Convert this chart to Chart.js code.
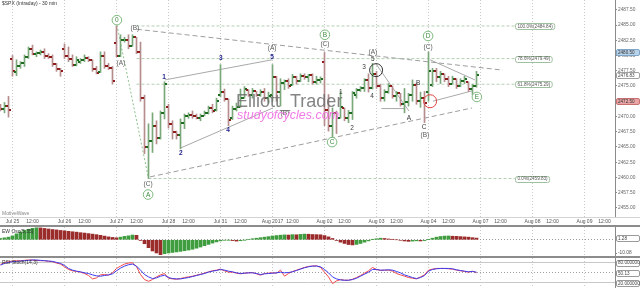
<!DOCTYPE html>
<html>
<head>
<meta charset="utf-8">
<script src="https://cdn.jsdelivr.net/npm/chart.js@4/dist/chart.umd.min.js"></script>
<style>
 html,body{margin:0;padding:0;background:#fff;}
 #wrap{position:relative;width:640px;height:288px;overflow:hidden;background:#fff;font-family:"Liberation Sans",Arial,sans-serif;}
 canvas{position:absolute;left:0;}
 #priceCv{top:0;}
 #oscCv{top:227px;}
 #rsiCv{top:258px;}
 .sep{position:absolute;left:0;width:640px;}
 .txt{position:absolute;white-space:nowrap;line-height:1;}
</style>
</head>
<body>
<div id="wrap">
 <canvas id="priceCv" width="640" height="226"></canvas>
 <canvas id="oscCv" width="640" height="29"></canvas>
 <canvas id="rsiCv" width="640" height="30"></canvas>
 <div class="sep" style="top:217px;height:1px;background:#d4d4d4"></div>
 <div class="sep" style="top:225px;height:2px;background:#8c8c8c"></div>
 <div class="sep" style="top:256px;height:2px;background:#8c8c8c"></div>
 <div class="txt" style="left:2px;top:1px;font-size:5px;color:#333">$SPX (Intraday) - 30 min</div>
 <div class="txt" style="left:2px;top:211px;font-size:5px;color:#888">MotiveWave</div>
 <div class="txt" style="left:2px;top:229px;font-size:5px;color:#333">EW Osc(5,35)</div>
 <div class="txt" style="left:2px;top:260px;font-size:5px;color:#333">RSI Stoch(14,3)</div>
 <div class="txt" style="left:236px;top:92px;font-size:18px;color:rgba(110,110,110,0.85)">Elliott_Trader</div>
 <div class="txt" style="left:237px;top:109px;font-size:12.5px;font-style:italic;color:#f27ae6">studyofcycles.com</div>
</div>
<script>
// ---------------- DATA ----------------
const firstBar = -3; // bar index of first bar (Jul 24, 14:30); Jul 25 09:30 = 0
const barsPerDay = 13;
const noonOffset = 5;
const dayLabels = ['Jul 25','Jul 26','Jul 27','Jul 28','Jul 31','Aug 2017','Aug 02','Aug 03','Aug 04','Aug 07','Aug 08','Aug 09'];
const noonLabel = '12:00';

const opens = [2471.5,2471.3,2471.8,
 2479.5,2477.3,2478.2,2478.7,2479.8,2481.0,2480.3,2480.4,2480.5,2480.0,2479.7,2478.6,2477.8,
 2481.0,2480.0,2479.5,2478.5,2478.9,2479.2,2479.6,2479.2,2477.8,2477.3,2479.9,2478.3,2478.0,
 2482.0,2480.0,2482.5,2482.6,2481.6,2483.0,2480.6,2473.0,2465.0,2466.0,2468.5,2466.5,2470.5,
 2471.5,2468.8,2467.5,2467.0,2469.0,2470.0,2470.3,2470.0,2469.8,2470.1,2470.6,2471.4,2471.0,
 2473.5,2474.0,2472.8,2469.8,2471.2,2471.6,2473.0,2474.4,2473.6,2474.1,2473.5,2474.0,2473.0,
 2473.5,2476.5,2474.0,2475.5,2475.8,2475.2,2476.5,2475.8,2476.7,2476.5,2476.8,2475.6,2476.0,
 2479.0,2471.0,2468.5,2470.5,2469.8,2471.4,2469.8,2470.5,2473.5,2474.4,2474.6,2476.0,2474.6,
 2477.0,2475.0,2473.0,2474.0,2475.0,2473.3,2473.8,2472.0,2472.3,2473.5,2475.2,2472.5,2473.0,
 2474.0,2475.2,2477.5,2476.5,2477.0,2476.2,2475.3,2476.2,2475.0,2475.8,2475.6,2474.5,2475.0];
const highs = [2472.0,2472.3,2473.3,
 2480.0,2479.3,2479.0,2480.1,2481.4,2481.7,2480.6,2480.9,2481.1,2480.3,2480.1,2478.7,2477.9,
 2481.9,2481.4,2480.1,2479.8,2479.5,2480.1,2479.8,2479.3,2478.2,2480.6,2480.6,2478.7,2478.2,
 2484.84,2483.4,2483.0,2483.4,2483.4,2483.0,2482.2,2473.5,2468.8,2470.6,2469.3,2470.9,2475.7,
 2472.0,2469.3,2467.6,2469.6,2470.4,2470.6,2470.9,2470.4,2470.4,2470.9,2471.7,2472.0,2473.0,
 2478.5,2474.5,2472.9,2471.7,2472.2,2474.5,2474.9,2474.4,2474.6,2474.1,2474.4,2474.6,2474.0,
 2478.5,2476.6,2476.2,2476.0,2476.2,2476.9,2476.6,2477.0,2477.0,2476.9,2477.0,2476.6,2476.5,
 2480.5,2473.6,2471.4,2470.9,2474.1,2471.4,2471.0,2474.1,2474.6,2474.9,2476.2,2477.0,2478.7,
 2477.4,2475.3,2474.4,2475.4,2475.0,2474.1,2473.8,2474.6,2473.8,2476.0,2475.5,2474.0,2474.1,
 2480.6,2477.9,2477.9,2477.4,2477.0,2476.6,2476.6,2476.2,2476.2,2476.6,2475.7,2475.3,2477.4];
const lows = [2470.9,2470.6,2469.9,
 2476.6,2476.7,2477.9,2478.2,2479.5,2480.1,2479.8,2480.1,2479.5,2479.5,2478.2,2477.4,2476.6,
 2479.5,2479.0,2478.2,2478.3,2478.7,2479.0,2479.0,2477.4,2477.0,2477.2,2477.9,2477.7,2475.3,
 2479.8,2479.8,2482.2,2481.1,2481.5,2480.3,2472.5,2463.9,2459.83,2464.1,2465.5,2466.3,2469.6,
 2468.1,2466.3,2466.3,2464.7,2468.0,2469.7,2469.7,2469.6,2469.3,2470.1,2470.4,2470.6,2470.9,
 2473.2,2472.5,2468.5,2469.5,2470.9,2471.5,2473.0,2473.3,2473.0,2473.3,2473.3,2472.5,2472.2,
 2472.5,2472.5,2471.7,2474.4,2474.6,2475.1,2475.3,2475.7,2476.1,2475.7,2475.3,2475.3,2475.5,
 2468.5,2467.6,2466.5,2467.2,2469.7,2469.3,2469.0,2469.5,2473.0,2474.1,2474.1,2474.0,2474.5,
 2474.6,2472.5,2472.5,2473.8,2473.0,2472.5,2471.7,2470.6,2471.7,2472.5,2472.0,2471.5,2469.0,
 2472.5,2474.9,2475.7,2475.4,2475.7,2474.9,2475.3,2474.6,2474.9,2475.4,2474.1,2473.6,2474.8];
const closes = [2471.3,2471.8,2471.0,
 2477.5,2478.2,2478.7,2479.8,2481.0,2480.3,2480.4,2480.5,2480.0,2479.7,2478.6,2477.8,2477.4,
 2480.0,2479.5,2478.5,2479.3,2479.2,2479.6,2479.2,2477.8,2477.2,2479.9,2478.3,2478.0,2475.8,
 2480.0,2482.5,2482.6,2481.6,2483.0,2480.6,2473.0,2465.0,2466.0,2468.5,2466.5,2470.5,2475.4,
 2468.8,2467.5,2467.0,2469.0,2470.0,2470.3,2470.0,2469.8,2470.1,2470.6,2471.4,2470.9,2472.5,
 2474.0,2472.8,2469.5,2471.2,2471.6,2473.0,2474.5,2473.6,2474.2,2473.5,2474.0,2473.0,2473.4,
 2476.5,2474.0,2475.5,2475.8,2475.0,2476.5,2475.8,2476.7,2476.5,2476.8,2475.6,2476.0,2476.2,
 2471.0,2468.5,2470.5,2469.8,2471.5,2469.8,2470.5,2473.8,2474.4,2474.6,2476.0,2474.6,2477.0,
 2475.0,2473.0,2474.0,2475.0,2473.3,2473.8,2472.0,2472.3,2473.5,2475.2,2472.5,2473.0,2472.2,
 2477.5,2477.5,2476.5,2477.0,2476.2,2475.3,2476.2,2475.0,2475.8,2476.2,2474.5,2475.0,2476.83];

const oscValues = [1.0,1.5,2.0,
 3.0,4.5,6.0,7.2,8.0,8.7,9.1,9.0,8.6,8.2,7.8,7.5,7.1,
 6.8,6.4,6.1,5.8,5.4,5.1,4.7,4.3,3.9,3.4,2.8,2.2,1.8,
 1.5,2.0,2.6,3.0,3.6,3.4,-0.5,-3.0,-6.0,-8.5,-10.0,-11.3,-10.6,
 -10.0,-9.6,-9.2,-8.8,-8.3,-7.8,-7.2,-6.4,-5.5,-4.5,-3.5,-2.5,-1.6,
 -0.8,-0.3,-0.2,-0.6,-1.0,-0.7,-0.2,0.3,0.8,1.2,1.6,2.0,2.4,
 2.9,3.2,3.5,3.7,3.6,3.9,3.8,4.1,4.3,4.2,4.0,3.9,3.8,
 3.2,2.2,1.0,-0.5,-1.8,-2.8,-3.6,-3.9,-3.5,-2.8,-1.8,-0.8,0.2,
 0.8,1.2,1.0,0.6,0.3,0.0,-0.4,-0.9,-1.2,-1.0,-0.8,-0.9,-0.6,
 0.2,1.2,2.0,2.5,2.8,2.9,2.7,2.6,2.4,2.2,2.0,1.6,1.28];
const oscCurrent = 1.28;
const oscTick = -10.08;

const stochFast = [75,80,83,
 85,86,86,87,88,88,87,86,86,84,83,79,76,
 68,60,56,54,52,48,42,32,35,44,45,43,50,
 63,70,76,79,80,68,45,30,25,30,38,44,48,
 34,32,31,33,36,38,40,43,46,49,53,56,58,
 61,56,52,52,49,47,49,50,51,47,43,48,49,
 50,49,58,40,48,54,58,62,66,69,70,71,66,
 52,38,18,26,30,28,28,31,36,42,49,56,66,
 60,57,58,58,55,48,44,40,36,34,32,38,44,
 58,61,63,63,63,62,61,58,56,54,52,55,50.13];
const stochSlow = [73,78,81,
 83,84,85,86,87,88,88,87,86,85,84,81,78,
 72,63,58,55,53,50,48,44,41,40,42,44,47,
 56,64,70,74,76,70,58,45,38,33,35,40,43,
 36,33,32,32,34,36,39,42,45,48,52,55,57,
 60,58,55,53,50,48,49,50,50,48,45,47,48,
 49,50,52,50,51,53,57,61,65,68,70,70,68,
 60,50,38,32,29,28,28,30,34,40,46,52,60,
 60,58,58,59,58,54,50,44,40,36,33,36,42,
 55,60,62,63,63,63,62,59,57,55,53,54,52];
const stochLevels = [80, 50, 20];
const stochTags = ['80.000000', '50.13', '20.000000'];

const priceTicks = [2455,2457.5,2460,2462.5,2465,2467.5,2470,2472.5,2475,2477.5,2480,2482.5,2485,2487.5];
const priceTags = [
 {value:2480.50, text:'2480.50', kind:'blue'},
 {value:2476.83, text:'2476.83', kind:'gray'},
 {value:2472.50, text:'2472.50', kind:'red'}
];

const fibNames = ['100.0%','78.6%','61.8%','0.0%'];
const fibPrices = [2484.84, 2479.49, 2475.29, 2459.83];
const fibStart = [31, 31, 31, 34];
const fibEnd = 125.6;

// wave labels: text, bar index, price, style
const waveLabels = [
 ['0',26.1,2485.8,'circle'], ['(B)',30.6,2484.5,'gray'], ['(A)',27.1,2478.9,'gray'],
 ['(C)',33.9,2459.0,'gray'], ['A',33.9,2457.2,'circle'],
 ['1',37.9,2476.6,'navy'], ['2',42.1,2464.1,'navy'], ['3',52.1,2479.7,'navy'], ['4',53.9,2467.9,'navy'], ['5',64.9,2479.8,'navy'],
 ['(A)',64.9,2481.3,'gray'], ['(B)',68.1,2470.6,'gray'],
 ['B',78.1,2483.4,'circle'], ['(C)',78.1,2481.9,'gray'], ['C',79.9,2465.8,'circle'],
 ['1',82.1,2474.1,'dark'], ['2',84.9,2468.1,'dark'], ['3',87.9,2478.2,'dark'], ['4',89.9,2473.4,'dark'], ['5',90.1,2479.4,'dark'], ['(A)',90.1,2480.7,'gray'],
 ['A',99.1,2469.8,'dark'], ['B',101.4,2475.6,'dark'], ['C',102.9,2468.3,'dark'], ['(B)',103.1,2467.0,'gray'],
 ['D',103.9,2483.2,'circle'], ['(C)',103.9,2481.4,'gray'], ['E',116.1,2473.2,'circle']
];
const ringMarks = [[90.9,2477.6,'black'], [104.4,2472.5,'red']];

// wave / trend lines: [i1, p1, i2, p2, kind]
const waveLines = [
 [31.1,2484.3,122.6,2477.6,'trend'],
 [34.4,2460.1,114.9,2471.4,'trend'],
 [26.1,2485.0,33.9,2460.2,'path'],
 [38.1,2476.0,64.9,2479.3,'wave'],
 [41.9,2464.8,65.1,2471.4,'wave'],
 [90.9,2478.6,99.1,2470.9,'wave'],
 [92.2,2471.3,98.1,2471.3,'wave'],
 [104.4,2479.3,115.6,2476.0,'wave'],
 [105.1,2472.5,114.9,2474.2,'wave']
];

// ---------------- BUILD ----------------
const FONT = '"Liberation Sans", Arial, sans-serif';
const barIdx = opens.map((_, k) => firstBar + k);
const isUp = k => closes[k] >= opens[k];
const xMin = -3.125, xMax = 150.625;

const xTickList = [];
dayLabels.forEach((d, k) => {
  xTickList.push({value: k * barsPerDay, label: d, day: true});
  if (k * barsPerDay + noonOffset <= xMax) xTickList.push({value: k * barsPerDay + noonOffset, label: noonLabel, day: false});
});
const xLabelMap = new Map(xTickList.map(t => [t.value, t]));

function tickImg(color, left) {
  const c = document.createElement('canvas');
  c.width = 5; c.height = 2;
  const g = c.getContext('2d');
  g.fillStyle = color;
  g.fillRect(left ? 0 : 3, 0, 2, 2);
  return c;
}
const UP_BAR = '#7ba87b', DN_BAR = '#b58d8d', UP_TICK = '#1f6b1f', DN_TICK = '#8e1c1c';
const openUp = tickImg(UP_TICK, true), openDn = tickImg(DN_TICK, true);
const closeUp = tickImg(UP_TICK, false), closeDn = tickImg(DN_TICK, false);

const lineStyles = {
  trend: {color: '#9d9d9d', dash: [5, 3]},
  path:  {color: '#8cc08c', dash: [2, 2]},
  wave:  {color: '#a9a9a9', dash: []},
  fib:   {color: '#b4cfb4', dash: [3, 2]}
};
const labelStyles = {
  gray:   {color: '#5a5a5a', size: 6.5},
  navy:   {color: '#1d1d8c', size: 6.5, bold: true},
  dark:   {color: '#3a3a3a', size: 6.5},
  circle: {color: '#3f8a3f', size: 6.5, ring: '#7cb87c'}
};
const ringColors = {black: '#333333', red: '#e04040'};
const tagStyles = {
  blue: {fill: '#b9d3ea', stroke: '#7ea4c8', text: '#333'},
  gray: {fill: '#ffffff', stroke: '#a0a0a0', text: '#444'},
  red:  {fill: '#eaa6a6', stroke: '#c87070', text: '#333'},
  plain:{fill: '#ffffff', stroke: '#9a9a9a', text: '#444'}
};

function roundRect(ctx, x, y, w, h, r) {
  ctx.beginPath();
  ctx.moveTo(x + r, y); ctx.lineTo(x + w - r, y); ctx.quadraticCurveTo(x + w, y, x + w, y + r);
  ctx.lineTo(x + w, y + h - r); ctx.quadraticCurveTo(x + w, y + h, x + w - r, y + h);
  ctx.lineTo(x + r, y + h); ctx.quadraticCurveTo(x, y + h, x, y + h - r);
  ctx.lineTo(x, y + r); ctx.quadraticCurveTo(x, y, x + r, y);
  ctx.closePath();
}
function drawTag(ctx, area, yPix, text, st) {
  const x = area.right + 1, w = 24, h = 6;
  roundRect(ctx, x + 0.5, Math.round(yPix - h / 2) + 0.5, w - 1, h, 1.5);
  ctx.fillStyle = st.fill; ctx.fill();
  ctx.strokeStyle = st.stroke; ctx.lineWidth = 1; ctx.stroke();
  ctx.fillStyle = st.text; ctx.font = '4.6px ' + FONT;
  ctx.textAlign = 'left'; ctx.textBaseline = 'middle';
  ctx.fillText(text, x + 2, yPix + 0.5);
}

const fixX = s => { s.paddingLeft = 0; s.paddingRight = 0; };
const commonX = (showLabels) => ({
  type: 'linear', min: xMin, max: xMax, offset: false, position: 'bottom',
  afterBuildTicks: s => { s.ticks = xTickList.map(t => ({value: t.value})); },
  afterFit: s => { s.height = showLabels ? 9 : 0; fixX(s); },
  ticks: {
    display: showLabels, autoSkip: false, maxRotation: 0, padding: 2,
    font: {size: 5, family: FONT}, color: '#555',
    callback: v => (xLabelMap.get(v) || {label: ''}).label
  },
  grid: {
    offset: false, drawTicks: false, lineWidth: 1,
    color: c => (c.tick && xLabelMap.get(c.tick.value) && xLabelMap.get(c.tick.value).day) ? '#c9c9c9' : 'rgba(0,0,0,0)'
  },
  border: {display: false, dash: [1, 2]}
});
const baseOpts = {
  responsive: false, animation: false, events: [],
  layout: {padding: 0, autoPadding: false},
  plugins: {legend: {display: false}, tooltip: {enabled: false}, title: {display: false}}
};

// ---------- price panel ----------
const pricePlugin = {
  id: 'priceAnno',
  afterDatasetsDraw(chart) {
    const {ctx, chartArea, scales: {x, y}} = chart;
    ctx.save();
    fibNames.forEach((n, k) => {
      const px = x.getPixelForValue(fibEnd), py = y.getPixelForValue(fibPrices[k]);
      const text = n + '(' + fibPrices[k].toFixed(2) + ')';
      ctx.font = '4.6px ' + FONT;
      const w = ctx.measureText(text).width + 4;
      roundRect(ctx, Math.round(px) + 0.5, Math.round(py - 3) + 0.5, w, 6, 2);
      ctx.fillStyle = '#fff'; ctx.fill();
      ctx.strokeStyle = '#9fc09f'; ctx.lineWidth = 1; ctx.stroke();
      ctx.fillStyle = '#555'; ctx.textAlign = 'left'; ctx.textBaseline = 'middle';
      ctx.fillText(text, Math.round(px) + 2.5, py + 0.5);
    });
    ringMarks.forEach(([i, p, c]) => {
      ctx.beginPath();
      ctx.arc(x.getPixelForValue(i), y.getPixelForValue(p), 6.5, 0, Math.PI * 2);
      ctx.strokeStyle = ringColors[c]; ctx.lineWidth = 1; ctx.stroke();
    });
    waveLabels.forEach(([t, i, p, s]) => {
      const st = labelStyles[s];
      const px = x.getPixelForValue(i), py = y.getPixelForValue(p);
      if (st.ring) {
        ctx.beginPath(); ctx.arc(px, py, 4.8, 0, Math.PI * 2);
        ctx.fillStyle = '#fff'; ctx.fill();
        ctx.strokeStyle = st.ring; ctx.lineWidth = 1; ctx.stroke();
      }
      ctx.font = (st.bold ? 'bold ' : '') + st.size + 'px ' + FONT;
      ctx.fillStyle = st.color; ctx.textAlign = 'center'; ctx.textBaseline = 'middle';
      ctx.fillText(t, px, py + 0.5);
    });
    priceTags.forEach(tg => drawTag(ctx, chartArea, y.getPixelForValue(tg.value), tg.text, tagStyles[tg.kind]));
    ctx.restore();
  }
};

const lineDatasets = waveLines.map(([i1, p1, i2, p2, kind]) => ({
  type: 'line', data: [{x: i1, y: p1}, {x: i2, y: p2}],
  borderColor: lineStyles[kind].color, borderDash: lineStyles[kind].dash, borderWidth: 1,
  pointRadius: 0, fill: false, tension: 0
}));
const fibDatasets = fibPrices.map((p, k) => ({
  type: 'line', data: [{x: fibStart[k], y: p}, {x: fibEnd, y: p}],
  borderColor: lineStyles.fib.color, borderDash: lineStyles.fib.dash, borderWidth: 1,
  pointRadius: 0, fill: false
}));

new Chart(document.getElementById('priceCv'), {
  type: 'bar',
  data: {
    datasets: [
      {type: 'line', data: barIdx.map((i, k) => ({x: i, y: opens[k]})), showLine: false, pointRadius: 1,
       pointStyle: c => isUp(c.dataIndex) ? openUp : openDn},
      {type: 'line', data: barIdx.map((i, k) => ({x: i, y: closes[k]})), showLine: false, pointRadius: 1,
       pointStyle: c => isUp(c.dataIndex) ? closeUp : closeDn},
      {type: 'bar', data: barIdx.map((i, k) => ({x: i, y: [lows[k], highs[k]]})), barThickness: 1,
       borderWidth: 0, grouped: false, backgroundColor: c => isUp(c.dataIndex) ? UP_BAR : DN_BAR},
      ...lineDatasets,
      ...fibDatasets
    ]
  },
  options: Object.assign({}, baseOpts, {
    scales: {
      x: commonX(true),
      y: {
        position: 'right', min: 2453.52, max: 2489.1,
        afterBuildTicks: s => { s.ticks = priceTicks.map(v => ({value: v})); },
        afterFit: s => { s.width = 25; s.paddingTop = 0; s.paddingBottom = 0; },
        ticks: {font: {size: 4.8, family: FONT}, color: '#666', padding: 1, callback: v => Number(v).toFixed(2)},
        grid: {drawOnChartArea: false, tickLength: 2, color: '#8a8a8a'},
        border: {display: true, color: '#8a8a8a'}
      }
    }
  }),
  plugins: [pricePlugin]
});

// ---------- oscillator panel ----------
const oscPlugin = {
  id: 'oscTag',
  afterDraw(chart) {
    const {ctx, chartArea, scales: {y}} = chart;
    ctx.save();
    drawTag(ctx, chartArea, y.getPixelForValue(oscCurrent), oscCurrent.toFixed(2), tagStyles.plain);
    ctx.restore();
  }
};
new Chart(document.getElementById('oscCv'), {
  type: 'bar',
  data: {datasets: [{
    data: barIdx.map((i, k) => ({x: i, y: oscValues[k]})), barThickness: 3, borderWidth: 0, grouped: false,
    backgroundColor: c => (c.dataIndex === 0 || oscValues[c.dataIndex] >= oscValues[c.dataIndex - 1]) ? '#3f9d3f' : '#9b2c2c'
  }]},
  options: Object.assign({}, baseOpts, {
    scales: {
      x: commonX(false),
      y: {
        position: 'right', min: -12.3, max: 9.7,
        afterBuildTicks: s => { s.ticks = [{value: oscTick}, {value: 0}]; },
        afterFit: s => { s.width = 25; s.paddingTop = 0; s.paddingBottom = 0; },
        ticks: {font: {size: 4.8, family: FONT}, color: '#555', padding: 1, callback: v => v === 0 ? '' : Number(v).toFixed(2)},
        grid: {tickLength: 2, tickColor: '#8a8a8a', color: c => (c.tick && c.tick.value === 0) ? '#9a9a9a' : 'rgba(0,0,0,0)'},
        border: {display: true, color: '#8a8a8a', dash: [1, 2]}
      }
    }
  }),
  plugins: [oscPlugin]
});

// ---------- stochastic panel ----------
const stochPlugin = {
  id: 'stochTags',
  afterDraw(chart) {
    const {ctx, chartArea, scales: {y}} = chart;
    ctx.save();
    stochLevels.forEach((v, k) => {
      const val = k === 1 ? stochFast[stochFast.length - 1] : v;
      drawTag(ctx, chartArea, y.getPixelForValue(val), stochTags[k], tagStyles.plain);
    });
    ctx.restore();
  }
};
new Chart(document.getElementById('rsiCv'), {
  type: 'line',
  data: {datasets: [
    {data: barIdx.map((i, k) => ({x: i, y: stochSlow[k]})), borderColor: '#3a3aee', borderWidth: 1, pointRadius: 0, tension: 0},
    {data: barIdx.map((i, k) => ({x: i, y: stochFast[k]})), borderColor: '#f24a4a', borderWidth: 1, pointRadius: 0, tension: 0}
  ]},
  options: Object.assign({}, baseOpts, {
    scales: {
      x: commonX(false),
      y: {
        position: 'right', min: 5, max: 94,
        afterBuildTicks: s => { s.ticks = stochLevels.map(v => ({value: v})); },
        afterFit: s => { s.width = 25; s.paddingTop = 0; s.paddingBottom = 0; },
        ticks: {display: true, font: {size: 4.8, family: FONT}, color: 'rgba(0,0,0,0)', padding: 1, callback: () => ''},
        grid: {tickLength: 2, tickColor: '#8a8a8a', color: c => (c.tick && c.tick.value === 50) ? '#a0a0a0' : '#c8c8c8'},
        border: {display: true, color: '#8a8a8a', dash: c => (c.tick && c.tick.value === 50) ? [1, 2] : []}
      }
    }
  }),
  plugins: [stochPlugin]
});
</script>
</body>
</html>
